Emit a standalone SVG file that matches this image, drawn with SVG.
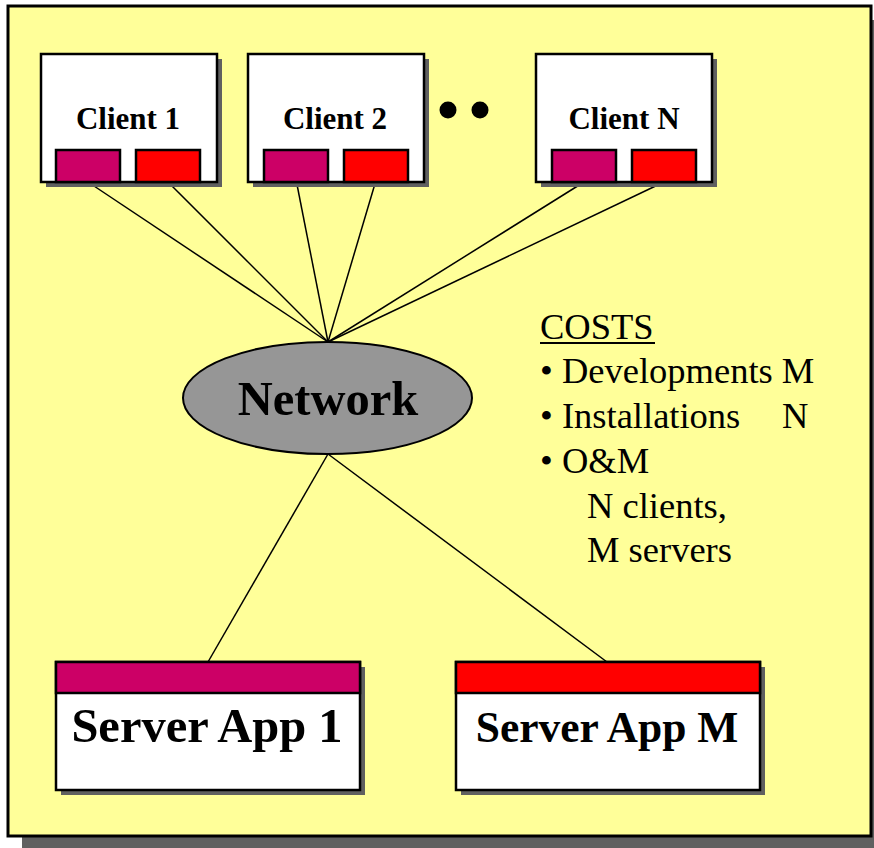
<svg xmlns="http://www.w3.org/2000/svg" width="874" height="848" viewBox="0 0 874 848">
<style>
.shadow{fill:#606060;}
.box{fill:#ffffff;stroke:#000;stroke-width:2.5;}
.mag{fill:#cc0066;stroke:#000;stroke-width:2.5;}
.red{fill:#ff0000;stroke:#000;stroke-width:2.5;}
.ctext{font-family:"Liberation Serif","Times New Roman",serif;font-weight:bold;font-size:31px;text-anchor:middle;fill:#000;}
.stext{font-family:"Liberation Serif","Times New Roman",serif;font-weight:bold;text-anchor:middle;fill:#000;}
.cost{font-family:"Liberation Serif","Times New Roman",serif;font-size:36.5px;fill:#000;}
.conn line{stroke:#000;stroke-width:1.5;}
</style>
<g id="frame">
<rect x="22" y="20" width="870" height="840" class="shadow"/>
<rect x="8" y="6" width="863" height="830" fill="#ffff99" stroke="#000" stroke-width="3"/>
</g>
<g id="connectors" class="conn">
<line x1="88" y1="182" x2="328" y2="342"/>
<line x1="168" y1="182" x2="328" y2="342"/>
<line x1="296.5" y1="182" x2="328" y2="342"/>
<line x1="375.5" y1="182" x2="328" y2="342"/>
<line x1="584" y1="182" x2="328" y2="342"/>
<line x1="664" y1="182" x2="328" y2="342"/>
<line x1="328" y1="454" x2="208" y2="662"/>
<line x1="328" y1="454" x2="607" y2="662"/>
</g>
<g id="client1">
<rect x="46" y="59" width="176" height="128" class="shadow"/>
<rect x="41" y="54" width="176" height="128" class="box"/>
<text x="128" y="129" class="ctext">Client 1</text>
<rect x="56" y="150" width="64" height="32" class="mag"/>
<rect x="136" y="150" width="64" height="32" class="red"/>
</g>
<g id="client2">
<rect x="253" y="59" width="176" height="128" class="shadow"/>
<rect x="248" y="54" width="176" height="128" class="box"/>
<text x="335" y="129" class="ctext">Client 2</text>
<rect x="264" y="150" width="64" height="32" class="mag"/>
<rect x="344" y="150" width="64" height="32" class="red"/>
</g>
<g id="dots">
<circle cx="448" cy="110" r="8.5" fill="#000"/>
<circle cx="480" cy="110" r="8.5" fill="#000"/>
</g>
<g id="clientN">
<rect x="541" y="59" width="176" height="128" class="shadow"/>
<rect x="536" y="54" width="176" height="128" class="box"/>
<text x="624" y="129" class="ctext">Client N</text>
<rect x="552" y="150" width="64" height="32" class="mag"/>
<rect x="632" y="150" width="64" height="32" class="red"/>
</g>
<g id="network">
<ellipse cx="327.5" cy="398" rx="144.5" ry="56" fill="#969696" stroke="#000" stroke-width="2"/>
<text x="328" y="415" class="stext" font-size="48.5">Network</text>
</g>
<g id="server1">
<rect x="61" y="667" width="304" height="128" class="shadow"/>
<rect x="56" y="662" width="304" height="128" class="box"/>
<rect x="56" y="662" width="304" height="31" class="mag"/>
<text x="207" y="742" class="stext" font-size="48.5">Server App 1</text>
</g>
<g id="serverM">
<rect x="461" y="667" width="304" height="128" class="shadow"/>
<rect x="456" y="662" width="304" height="128" class="box"/>
<rect x="456" y="662" width="304" height="31" class="red"/>
<text x="607" y="742" class="stext" font-size="43.5">Server App M</text>
</g>
<g id="costs">
<text x="540" y="339" class="cost">COSTS</text>
<rect x="540" y="342" width="115" height="2" fill="#000"/>
<text x="540" y="383" class="cost">• Developments M</text>
<text x="540" y="428" class="cost">• Installations</text>
<text x="782" y="428" class="cost">N</text>
<text x="540" y="473" class="cost">• O&amp;M</text>
<text x="587" y="518" class="cost">N clients,</text>
<text x="587" y="562" class="cost">M servers</text>
</g>
</svg>
